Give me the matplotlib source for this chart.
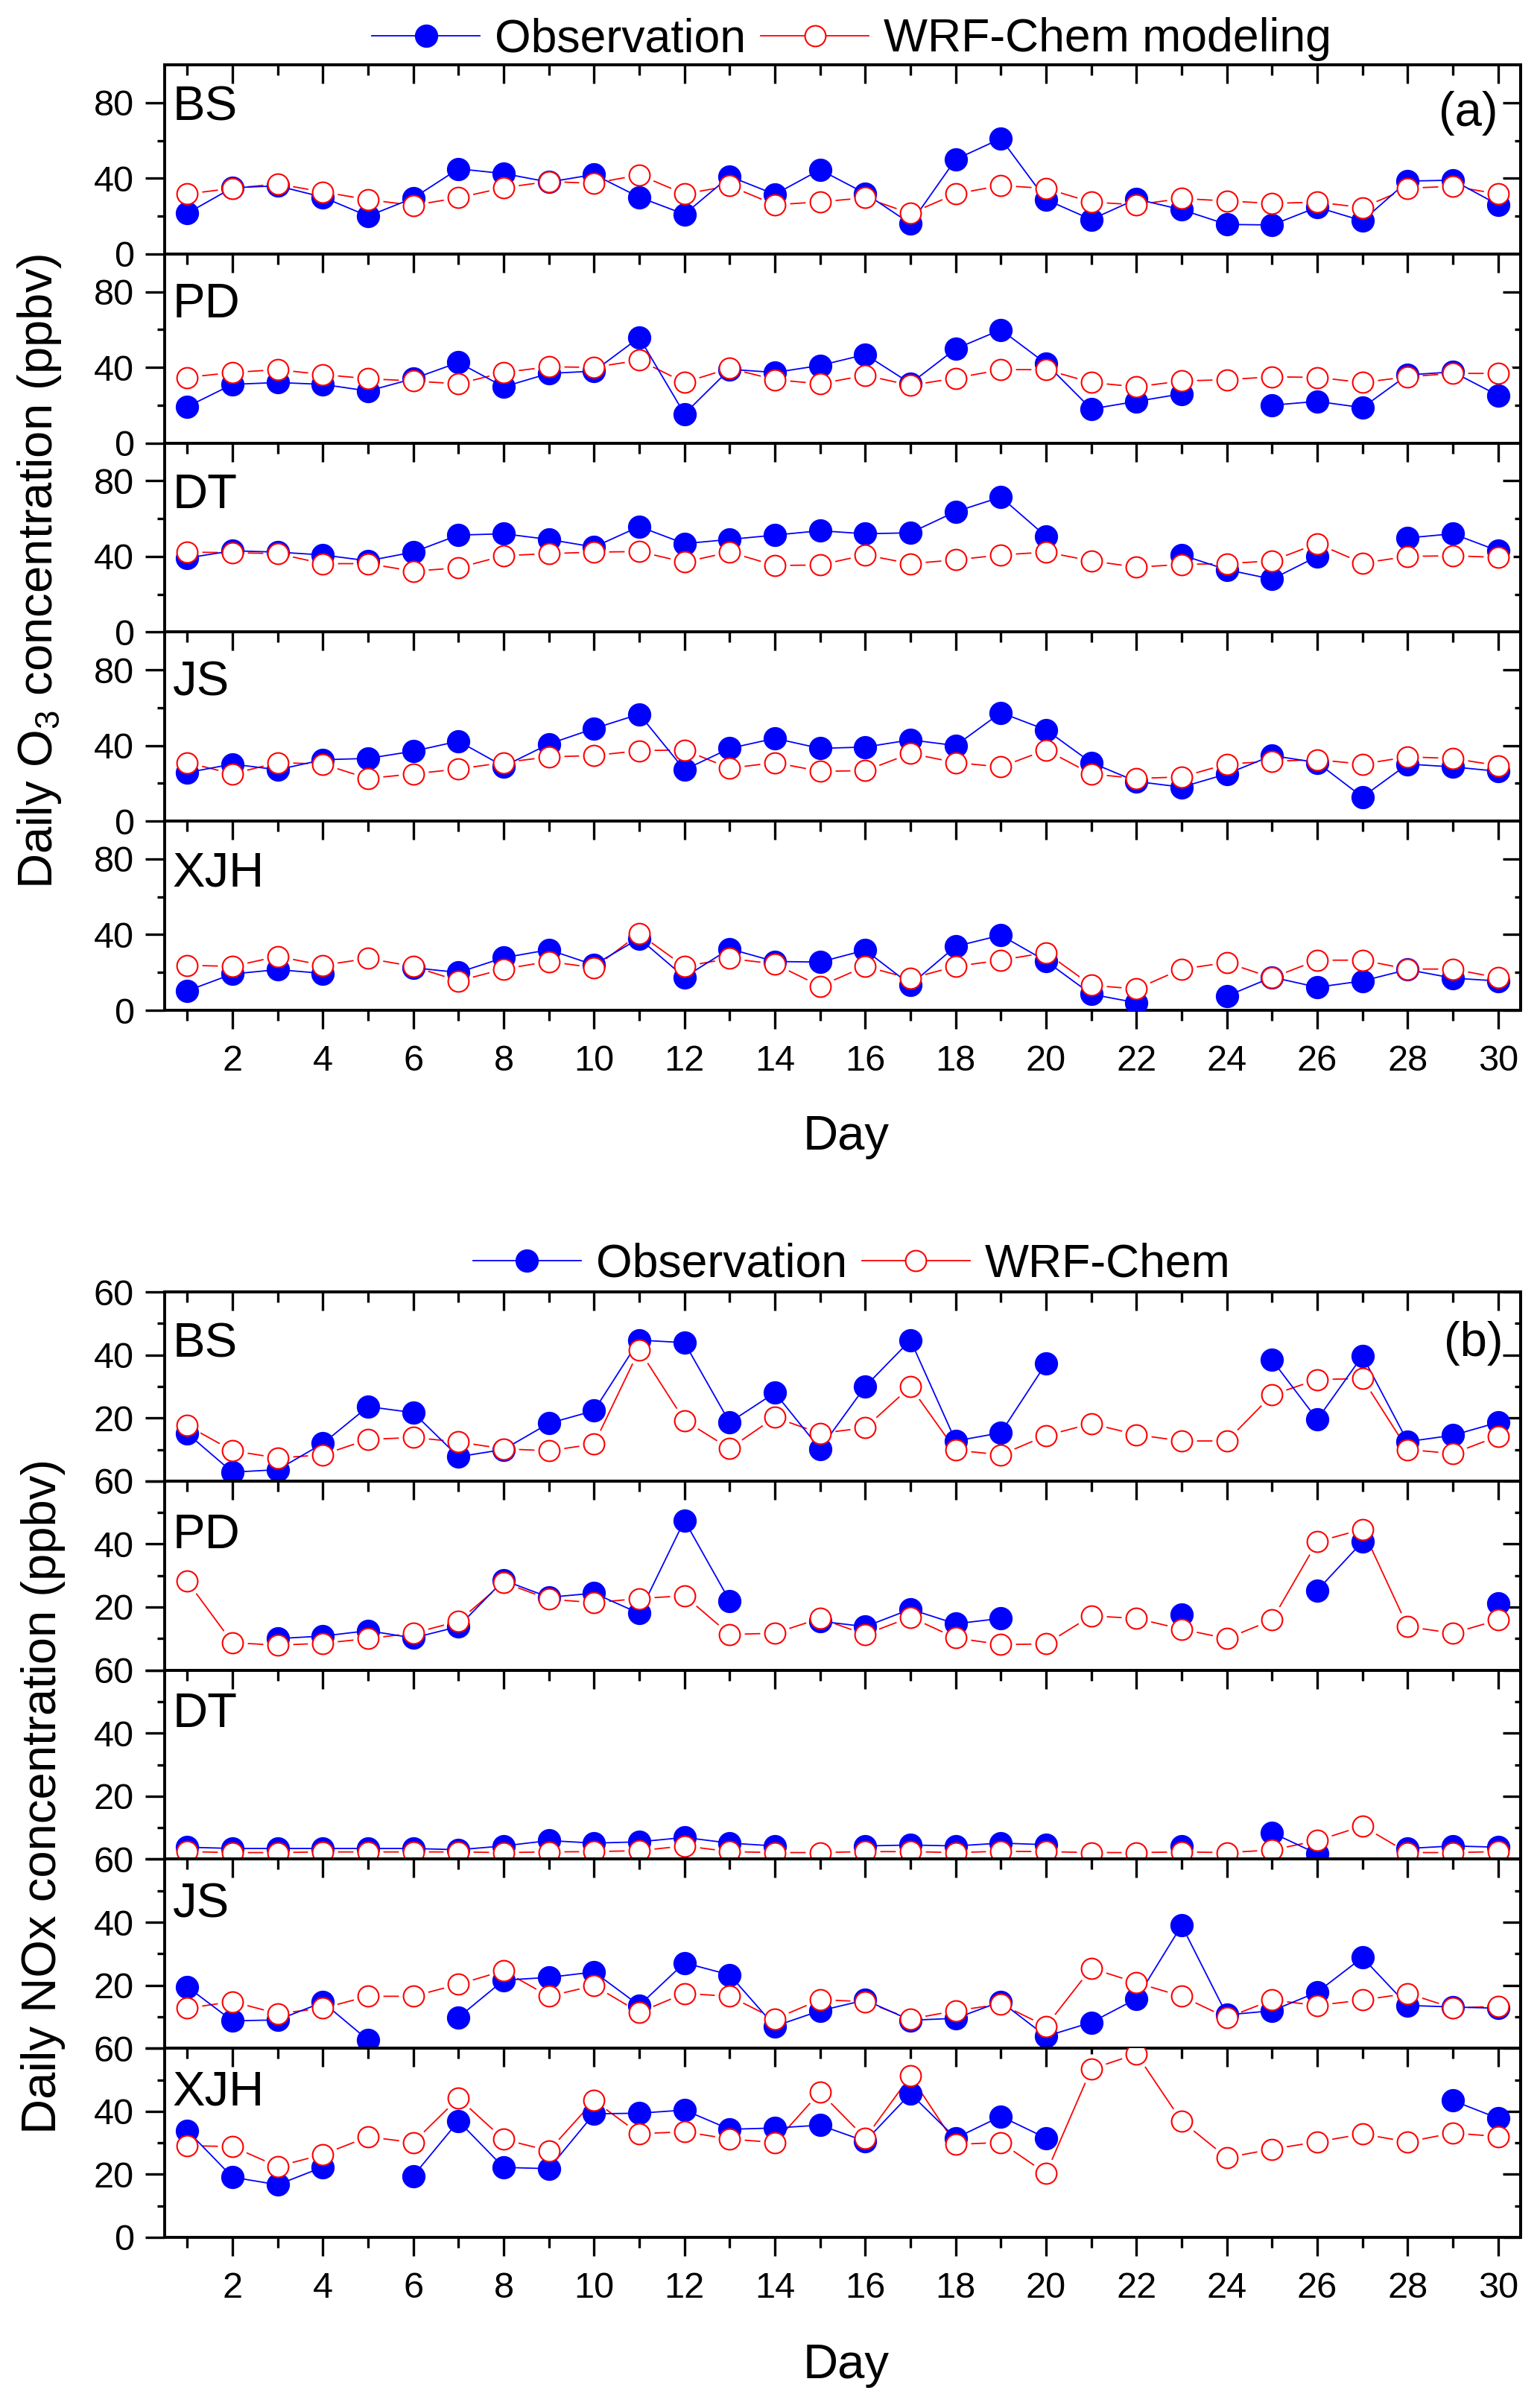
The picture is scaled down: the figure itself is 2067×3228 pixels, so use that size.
import numpy as np
import matplotlib
matplotlib.use("Agg")
import matplotlib.pyplot as plt
from matplotlib.lines import Line2D

plt.rcParams['font.family'] = ['Liberation Sans', 'DejaVu Sans']
plt.rcParams['mathtext.default'] = 'regular'

nan = np.nan
days = np.arange(1, 31)
stations = ['BS', 'PD', 'DT', 'JS', 'XJH']

# ---- daily O3 (ppbv), panel (a)
o3_obs_bs = [21.5, 35, 36, 30, 20, 29.5, 45, 42.5, 38, 42, 30, 21, 41, 31.5, 44.5,
             32, 16, 50, 61, 28.7, 18.2, 29, 23.4, 15.6, 15.3, 24.7, 17.5, 38.5, 39, 26]
o3_mod_bs = [31.7, 34.7, 37, 32.8, 28.7, 25.7, 29.7, 35, 38.3, 37.3, 41.8, 31.7, 36, 26, 27.5,
             29.7, 21.4, 31.7, 36.2, 34.6, 27.4, 26, 29.3, 28, 26.7, 27.4, 24.5, 34.7, 35.8, 31.7]
o3_obs_pd = [19.2, 31, 32, 31, 27.5, 34, 42.6, 29.7, 36.8, 38, 55.8, 15.4, 39, 37.3, 41,
             46.8, 31.5, 49.8, 59.9, 42, 18, 22, 26, nan, 20, 22, 18.7, 36, 37.6, 25.2]
o3_mod_pd = [34.7, 37.3, 38.8, 36.2, 34, 32.8, 31.3, 37.3, 40.3, 40, 43.8, 32, 39.5, 33.5, 31.3,
             35.8, 30.5, 34.3, 38.8, 38.8, 32, 29.7, 32.8, 33.5, 35, 34.7, 32, 35, 36.8, 36.8]
o3_obs_dt = [39.2, 43, 42.3, 40.8, 37.7, 42.3, 51.3, 52, 49, 45, 55.8, 46.8, 49, 51.3, 53.6,
             52, 52.5, 63.7, 71.4, 50.6, nan, nan, 40.8, 33, 28, 40, nan, 49.8, 52, 43]
o3_mod_dt = [42.3, 42, 41.5, 36.2, 36.2, 32.2, 34, 40.4, 41.5, 42.3, 42.6, 37, 42.3, 35.2, 35.5,
             40.8, 36.2, 38.2, 40.8, 42.3, 37.7, 34.3, 35.8, 36.2, 37.7, 46.8, 36.5, 40, 40.4, 39.5]
o3_obs_js = [25.7, 30.2, 27.2, 32.5, 33.2, 37, 42.3, 29, 40.8, 49, 56.6, 27.2, 38.5, 43.8, 38.5,
             39.2, 43, 40, 57.4, 48.3, 31, 21, 18, 25, 34.7, 31, 12.8, 30.2, 28.7, 26.4]
o3_mod_js = [31, 25, 31, 30.2, 22.6, 25, 27.6, 31, 34, 34.7, 37.3, 37.7, 28, 31, 26.4,
             26.7, 35.8, 31, 28.7, 37.7, 25, 22.6, 23.4, 30.2, 31.7, 32.5, 30.2, 34, 33.2, 29.4]
o3_obs_xjh = [10.3, 19.2, 21.5, 19.5, nan, 22.5, 20, 27.8, 32, 24, 38, 17.5, 32.5, 25.8, 25.5,
              31.8, 13.5, 33.8, 39.7, 26, 8.5, 4, nan, 7.5, 17.5, 12.2, 15.5, 21.5, 17, 15.5]
o3_mod_xjh = [23.8, 23.2, 28.5, 23.8, 27.4, 23.2, 15.5, 21.8, 25.8, 22.5, 40.4, 23.2, 27.4, 24.5, 12.8,
              23.2, 16.8, 23.2, 26.5, 30.5, 13.2, 11.3, 21.8, 25.2, 17.2, 26.5, 26.5, 21.8, 21.8, 17.2]

# ---- daily NOx (ppbv), panel (b)
nox_obs_bs = [15.1, 2.8, 3.6, 11.9, 23.6, 21.7, 7.7, 10, 18.3, 22.3, 44.7, 43.9, 18.6, 28, 10.2,
              30, 44.7, 12.7, 15.3, 37.3, nan, nan, nan, nan, 38.4, 19.5, 39.7, 12.5, 14.5, 18.6]
nox_mod_bs = [17.6, 9.6, 7.3, 8.3, 13.2, 13.8, 12.4, 10.2, 9.6, 11.7, 41.6, 19.2, 10.3, 20.2, 15.1,
              16.9, 29.9, 9.8, 8.3, 14.4, 18.2, 14.7, 12.7, 12.7, 27.3, 32.2, 32.5, 10, 8.7, 14.2]
nox_obs_pd = [nan, nan, 10, 10.8, 12.5, 10.2, 13.8, 28.5, 23.1, 24.4, 18, 47.5, 22, nan, 15.5,
              13.8, 19.3, 14.7, 16.4, nan, nan, nan, 17.6, nan, nan, 25.3, 40.7, nan, nan, 21.2]
nox_mod_pd = [28.2, 8.7, 7.9, 8.5, 10, 11.7, 15.5, 27.8, 22.5, 21.4, 22.7, 23.6, 11.3, 11.7, 16.4,
              11.3, 16.8, 10.2, 8.1, 8.3, 17.2, 16.4, 13, 10, 15.9, 40.7, 44.7, 13.8, 11.7, 15.9]
nox_obs_dt = [3.8, 3.4, 3.4, 3.4, 3.4, 3.4, 3, 4.2, 5.9, 5.1, 5.5, 6.9, 5.1, 4.2, nan,
              4.2, 4.5, 4.2, 5.1, 4.6, nan, nan, 4, nan, 8.4, 1.7, nan, 3.4, 4.2, 3.8]
nox_mod_dt = [2.4, 2.1, 2.1, 2.3, 2.3, 2.3, 2.3, 2.1, 2.3, 2.4, 2.7, 4.2, 2.4, 2.1, 2.1,
              2.4, 2.4, 2.1, 2.5, 2.4, 2.1, 2.1, 2.3, 2.1, 2.9, 5.9, 10.5, 2.1, 2.1, 2.4]
nox_obs_js = [19.5, 8.7, 9, 14.6, 2.6, nan, 9.8, 21.6, 22.5, 24.2, 13.6, 27.1, 23.3, 7, 11.9,
              15.3, 8.9, 9.5, 14.8, 3.8, 8.2, 15.7, 39, 10.6, 11.9, 17.8, 28.8, 13.6, 13.1, 12.7]
nox_mod_js = [12.7, 14.8, 11, 12.7, 16.5, 16.5, 20.3, 24.6, 16.5, 19.9, 11.4, 17.4, 16.5, 9.3, 15.4,
              14.8, 9.3, 11.9, 14, 7, 25.4, 20.8, 16.5, 9.7, 15.3, 13.6, 15.3, 17.4, 12.8, 13.3]
nox_obs_xjh = [33.9, 19.1, 16.7, 22.3, nan, 19.5, 36.9, 22.2, 21.8, 39.2, 39.4, 40.4, 34.3, 34.7, 35.6,
               30.5, 45.6, 31.5, 38.4, 31.5, nan, nan, nan, nan, nan, nan, nan, nan, 43.4, 37.8]
nox_mod_xjh = [29.1, 28.8, 22.5, 26.3, 31.9, 30.1, 44.2, 31.1, 27.5, 43.4, 32.9, 33.5, 31.2, 30.1, 46.1,
               31.5, 51.2, 29.5, 30.1, 20.3, 53.4, 58.2, 36.9, 25.3, 28, 30.3, 32.8, 30.3, 33.1, 32]

o3_obs = [o3_obs_bs, o3_obs_pd, o3_obs_dt, o3_obs_js, o3_obs_xjh]
o3_mod = [o3_mod_bs, o3_mod_pd, o3_mod_dt, o3_mod_js, o3_mod_xjh]
nox_obs = [nox_obs_bs, nox_obs_pd, nox_obs_dt, nox_obs_js, nox_obs_xjh]
nox_mod = [nox_mod_bs, nox_mod_pd, nox_mod_dt, nox_mod_js, nox_mod_xjh]

W, H = 2067, 3228
fig = plt.figure(figsize=(W / 100, H / 100), dpi=100)

LEFT, RIGHT = 221, 2041
SUB_H = 253.8
SPINE_W = 2.8
TICK_W = 2.4
TICK_FS = 35
BIG_FS = 47


def style_axes(ax, ymax, yticks, yminor, ylabels, bottom_labels):
    ax.set_xlim(0.5, 30.5)
    ax.set_ylim(0, ymax)
    ax.set_xticks(range(2, 31, 2))
    ax.set_xticks(range(1, 31, 2), minor=True)
    ax.set_yticks(yticks, labels=ylabels)
    ax.set_yticks(yminor, minor=True)
    ax.tick_params(which='both', direction='out', width=TICK_W, labelsize=TICK_FS,
                   top=False, right=False, labelbottom=bottom_labels)
    ax.tick_params(axis='x', which='major', length=18, pad=15)
    ax.tick_params(axis='x', which='minor', length=10)
    ax.tick_params(axis='y', which='major', length=18.5, pad=11)
    ax.tick_params(axis='y', which='minor', length=7)
    for s in ax.spines.values():
        s.set_linewidth(SPINE_W)

    top = ax.secondary_xaxis('top')
    top.set_xticks(range(2, 31, 2))
    top.set_xticks(range(1, 31, 2), minor=True)
    top.tick_params(which='both', direction='in', width=TICK_W, labeltop=False)
    top.tick_params(which='major', length=18)
    top.tick_params(which='minor', length=10)
    top.spines['top'].set_linewidth(SPINE_W)

    rgt = ax.secondary_yaxis('right')
    rgt.set_yticks(yticks)
    rgt.set_yticks(yminor, minor=True)
    rgt.tick_params(which='both', direction='in', width=TICK_W, labelright=False)
    rgt.tick_params(which='major', length=17)
    rgt.tick_params(which='minor', length=6)
    rgt.spines['right'].set_linewidth(SPINE_W)


def draw_series(ax, obs, mod):
    ax.plot(days, mod, '-', color='red', lw=1.3, zorder=2)
    # white halo gives the small gap between the red line and its symbols
    ax.plot(days, mod, 'o', ls='none', ms=29, mfc='white', mec='none', zorder=2.5)
    ax.plot(days, obs, '-o', color='blue', lw=1.3, ms=21.5, mfc='blue', mec='blue', zorder=3)
    ax.plot(days, mod, 'o', ls='none', ms=20, mfc='white', mec='red', mew=1.5, zorder=4)


def make_panel(top_px, obs_list, mod_list, ymax, yticks, yminor, label_tops, is_nox):
    axes = []
    for i, st in enumerate(stations):
        y0 = top_px + (i + 1) * SUB_H
        ax = fig.add_axes([LEFT / W, 1 - y0 / H, (RIGHT - LEFT) / W, SUB_H / H])
        labels = [str(t) for t in yticks]
        if is_nox and i < 4:
            labels[0] = ''
        style_axes(ax, ymax, yticks, yminor, labels, i == 4)
        draw_series(ax, obs_list[i], mod_list[i])
        ax.text(0.006, 1 - label_tops[i] / SUB_H, st, transform=ax.transAxes,
                ha='left', va='top', fontsize=BIG_FS)
        axes.append(ax)
    return axes


axes_a = make_panel(87, o3_obs, o3_mod, 100, [0, 40, 80], [20, 60],
                    [28, 38, 40, 38, 40], False)
axes_b = make_panel(1734, nox_obs, nox_mod, 60, [0, 20, 40, 60], [10, 30, 50],
                    [40, 43, 29, 31, 29], True)

axes_a[0].text(0.983, 1 - 35 / SUB_H, '(a)', transform=axes_a[0].transAxes,
               ha='right', va='top', fontsize=BIG_FS)
axes_b[0].text(0.987, 1 - 39 / SUB_H, '(b)', transform=axes_b[0].transAxes,
               ha='right', va='top', fontsize=BIG_FS)

# axis titles
fig.text(0.0257, 1 - 767 / H, 'Daily O$_3$ concentration (ppbv)', rotation=90,
         ha='center', va='center', fontsize=BIG_FS)
fig.text(0.028, 1 - 2411 / H, 'Daily NOx concentration (ppbv)', rotation=90,
         ha='center', va='center', fontsize=BIG_FS)
fig.text(0.5495, 1 - 1543 / H, 'Day', ha='center', va='baseline', fontsize=BIG_FS)
fig.text(0.5495, 1 - 3192 / H, 'Day', ha='center', va='baseline', fontsize=BIG_FS)

# legends
obs_handle = Line2D([], [], color='blue', lw=1.3, marker='o', ms=21.5, mfc='blue', mec='blue')
mod_handle = Line2D([], [], color='red', lw=1.3, marker='o', ms=20, mfc='white', mec='red', mew=1.5)
for yc, names in [(53, ['Observation', 'WRF-Chem modeling']),
                  (1697, ['Observation', 'WRF-Chem'])]:
    fig.legend([obs_handle, mod_handle], names, loc='center',
               bbox_to_anchor=(0.553, 1 - yc / H), ncol=2, frameon=False,
               fontsize=45, handlelength=2.32, handletextpad=0.32, columnspacing=0.32,
               borderpad=0, borderaxespad=0, numpoints=1)

fig.savefig('out.png', dpi=100)
